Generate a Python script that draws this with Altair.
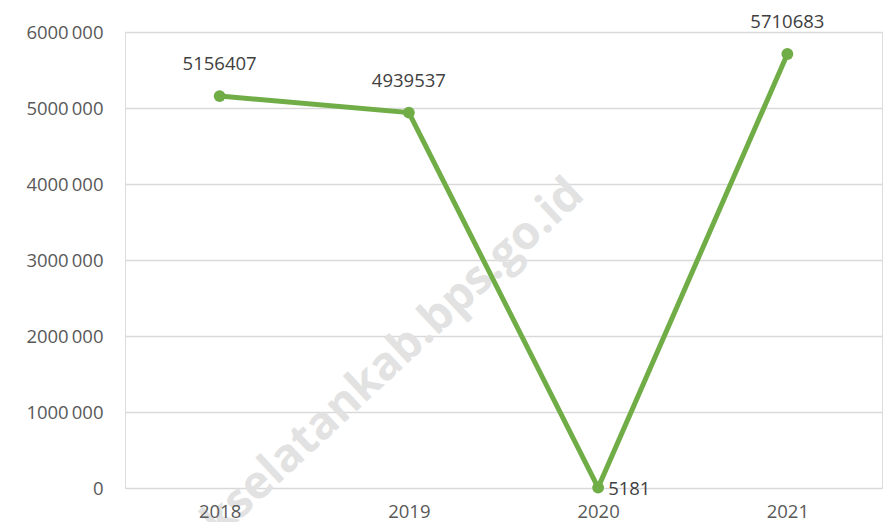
import altair as alt
import pandas as pd

years = ["2018", "2019", "2020", "2021"]
values = [5156407, 4939537, 5181, 5710683]
y_ticks = [0, 1000000, 2000000, 3000000, 4000000, 5000000, 6000000]
watermark = "kselatankab.bps.go.id"

df = pd.DataFrame({"year": years, "value": values})
df["label"] = [str(v) for v in values]

FONT = "Open Sans"
GREEN = "#70AD47"
FS = 18.5

x = alt.X("year:N", title=None, sort=years,
          scale=alt.Scale(paddingInner=0, paddingOuter=0.5),
          axis=alt.Axis(labelAngle=0, domain=False, ticks=False, grid=False, labelPadding=14,
                        labelFontSize=FS, labelColor="#595959", labelFont=FONT, zindex=2))
y = alt.Y("value:Q", title=None,
          scale=alt.Scale(domain=[0, 6000000], nice=False),
          axis=alt.Axis(values=y_ticks, domain=False, ticks=False, labelPadding=22,
                        labelFontSize=FS, labelColor="#595959", labelFont=FONT,
                        gridColor="#d9d9d9", gridWidth=1.3,
                        labelExpr="datum.value == 0 ? '0' : floor(datum.value/1000) + '\u2009000'"))

wm = alt.Chart(pd.DataFrame({"t": [watermark]})).mark_text(
    font=FONT, fontSize=46, fontWeight="bold", color="#e2e2e2",
    angle=317, align="center", baseline="middle"
).encode(x=alt.value(268), y=alt.value(326), text="t:N")

base = alt.Chart(df).encode(x=x, y=y)
line = base.mark_line(color=GREEN, strokeWidth=5)
pts = base.mark_circle(color=GREEN, size=140, opacity=1)
lab_top = base.transform_filter("datum.year != '2020'").mark_text(
    font=FONT, fontSize=FS, color="#404040", dy=-32, baseline="middle"
).encode(text="label:N")
lab_right = base.transform_filter("datum.year == '2020'").mark_text(
    font=FONT, fontSize=FS, color="#404040", dx=10, dy=1, align="left", baseline="middle"
).encode(text="label:N")

chart = alt.layer(wm, line, pts, lab_top, lab_right).properties(
    width=757, height=456,
    autosize=alt.AutoSizeParams(type="none"),
    padding={"left": 117, "top": 24, "right": 4, "bottom": 34},
).configure_view(stroke=None).configure(background="white")

chart.save("out.html", embed_options={"renderer": "svg", "actions": False})
